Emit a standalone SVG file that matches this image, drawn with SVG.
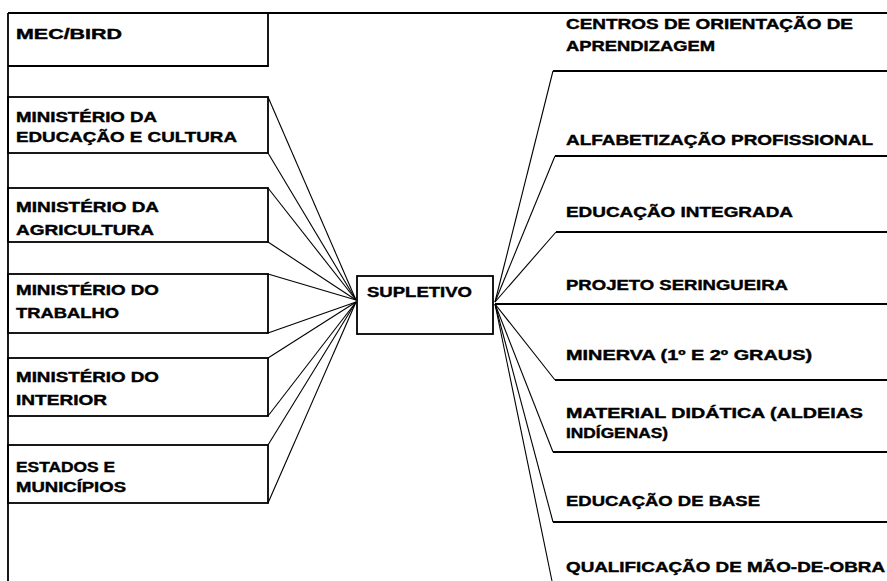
<svg xmlns="http://www.w3.org/2000/svg" width="887" height="581" viewBox="0 0 887 581">
<style>
  .bx { fill: none; stroke: #000; stroke-width: 1.8; }
  .ln { stroke: #000; stroke-width: 1.8; fill: none; }
  .cn { stroke: #000; stroke-width: 1.1; fill: none; }
  text { font-family: "Liberation Sans", Arial, sans-serif; font-weight: bold; font-size: 14.5px; fill: #000; stroke: #000; stroke-width: 0.4; }
</style>
<rect width="887" height="581" fill="#fff"/>
<g id="frame">
  <line class="ln" x1="8" y1="13" x2="887" y2="13"/>
  <line class="ln" x1="8" y1="13" x2="8" y2="581"/>
</g>
<g id="mec-bird">
  <polyline class="bx" points="268,13 268,66 8,66"/>
  <text x="16" y="39" textLength="106" lengthAdjust="spacingAndGlyphs">MEC/BIRD</text>
</g>
<g id="min-educacao">
  <rect class="bx" x="8" y="97" width="260" height="56"/>
  <text x="16" y="122" textLength="141" lengthAdjust="spacingAndGlyphs">MINISTÉRIO DA</text>
  <text x="16" y="142" textLength="221" lengthAdjust="spacingAndGlyphs">EDUCAÇÃO E CULTURA</text>
</g>
<g id="min-agricultura">
  <rect class="bx" x="8" y="188" width="260" height="54"/>
  <text x="16" y="212" textLength="143" lengthAdjust="spacingAndGlyphs">MINISTÉRIO DA</text>
  <text x="16" y="235" textLength="138" lengthAdjust="spacingAndGlyphs">AGRICULTURA</text>
</g>
<g id="min-trabalho">
  <rect class="bx" x="8" y="274" width="260" height="59"/>
  <text x="16" y="295" textLength="143" lengthAdjust="spacingAndGlyphs">MINISTÉRIO DO</text>
  <text x="16" y="318" textLength="103" lengthAdjust="spacingAndGlyphs">TRABALHO</text>
</g>
<g id="min-interior">
  <rect class="bx" x="8" y="358" width="260" height="58"/>
  <text x="16" y="382" textLength="143" lengthAdjust="spacingAndGlyphs">MINISTÉRIO DO</text>
  <text x="16" y="405" textLength="91" lengthAdjust="spacingAndGlyphs">INTERIOR</text>
</g>
<g id="estados">
  <rect class="bx" x="8" y="445" width="260" height="58"/>
  <text x="16" y="472" textLength="99" lengthAdjust="spacingAndGlyphs">ESTADOS E</text>
  <text x="16" y="492" textLength="110" lengthAdjust="spacingAndGlyphs">MUNICÍPIOS</text>
</g>
<g id="supletivo">
  <rect class="bx" x="357" y="276" width="136" height="58"/>
  <text x="367" y="297" textLength="105" lengthAdjust="spacingAndGlyphs">SUPLETIVO</text>
</g>
<g id="centros">
  <text x="566" y="29" textLength="287" lengthAdjust="spacingAndGlyphs">CENTROS DE ORIENTAÇÃO DE</text>
  <text x="566" y="51" textLength="149" lengthAdjust="spacingAndGlyphs">APRENDIZAGEM</text>
  <line class="ln" x1="553" y1="71" x2="887" y2="71"/>
</g>
<g id="alfabetizacao">
  <text x="566" y="145" textLength="307" lengthAdjust="spacingAndGlyphs">ALFABETIZAÇÃO PROFISSIONAL</text>
  <line class="ln" x1="555" y1="156" x2="887" y2="156"/>
</g>
<g id="educacao-integrada">
  <text x="566" y="217" textLength="227" lengthAdjust="spacingAndGlyphs">EDUCAÇÃO INTEGRADA</text>
  <line class="ln" x1="556" y1="232" x2="887" y2="232"/>
</g>
<g id="seringueira">
  <text x="566" y="290" textLength="222" lengthAdjust="spacingAndGlyphs">PROJETO SERINGUEIRA</text>
  <line class="ln" x1="495" y1="304" x2="887" y2="304"/>
</g>
<g id="minerva">
  <text x="566" y="360" textLength="246" lengthAdjust="spacingAndGlyphs">MINERVA (1º E 2º GRAUS)</text>
  <line class="ln" x1="555" y1="380" x2="887" y2="380"/>
</g>
<g id="material">
  <text x="566" y="418" textLength="297" lengthAdjust="spacingAndGlyphs">MATERIAL DIDÁTICA (ALDEIAS</text>
  <text x="566" y="438" textLength="102" lengthAdjust="spacingAndGlyphs">INDÍGENAS)</text>
  <line class="ln" x1="553" y1="452" x2="887" y2="452"/>
</g>
<g id="educacao-base">
  <text x="566" y="506" textLength="194" lengthAdjust="spacingAndGlyphs">EDUCAÇÃO DE BASE</text>
  <line class="ln" x1="553" y1="522" x2="887" y2="522"/>
</g>
<g id="qualificacao">
  <text x="566" y="572" textLength="319" lengthAdjust="spacingAndGlyphs">QUALIFICAÇÃO DE MÃO-DE-OBRA</text>
</g>
<g id="connectors">
  <line class="cn" x1="268" y1="97" x2="356" y2="300"/>
  <line class="cn" x1="268" y1="153" x2="356" y2="300"/>
  <line class="cn" x1="268" y1="188" x2="356" y2="300"/>
  <line class="cn" x1="268" y1="242" x2="356" y2="300"/>
  <line class="cn" x1="268" y1="274" x2="356" y2="300"/>
  <line class="cn" x1="268" y1="333" x2="356" y2="302"/>
  <line class="cn" x1="268" y1="358" x2="356" y2="302"/>
  <line class="cn" x1="268" y1="416" x2="356" y2="302"/>
  <line class="cn" x1="268" y1="445" x2="356" y2="302"/>
  <line class="cn" x1="268" y1="503" x2="356" y2="302"/>
  <line class="cn" x1="495" y1="302" x2="553" y2="71"/>
  <line class="cn" x1="495" y1="302" x2="555" y2="156"/>
  <line class="cn" x1="495" y1="302" x2="556" y2="232"/>
  <line class="cn" x1="495" y1="304" x2="555" y2="380"/>
  <line class="cn" x1="495" y1="304" x2="553" y2="452"/>
  <line class="cn" x1="495" y1="304" x2="553" y2="522"/>
  <line class="cn" x1="495" y1="304" x2="552" y2="581"/>
</g>
</svg>
